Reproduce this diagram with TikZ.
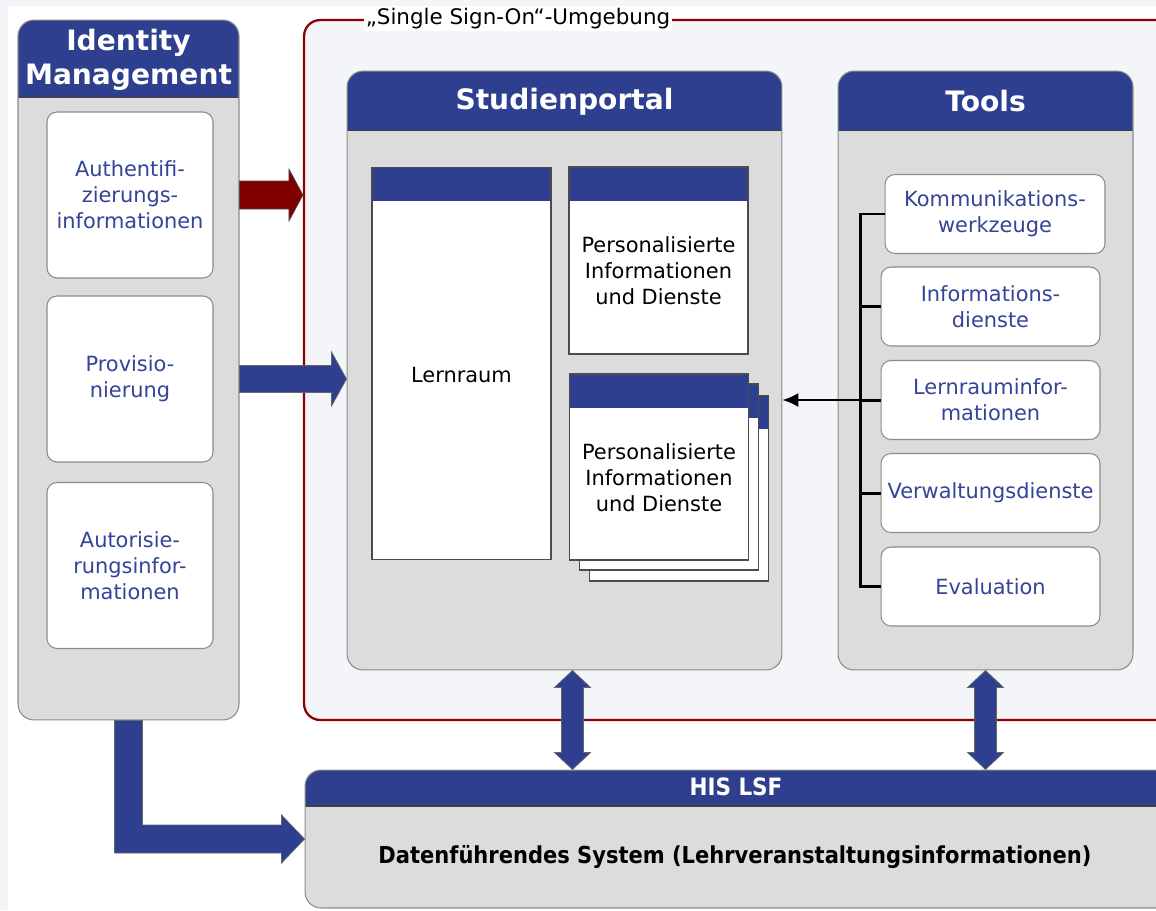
\documentclass[tikz,border=0pt]{standalone}
\usepackage{fontspec}
\setmainfont{DejaVu Sans}
\newfontfamily\hisfont[FakeStretch=0.9]{DejaVu Sans}
\usetikzlibrary{calc,arrows.meta}

\definecolor{hdrblue}{RGB}{46,63,143}
\definecolor{txtblue}{RGB}{52,68,152}
\definecolor{boxgrey}{RGB}{220,220,220}
\definecolor{edgegrey}{RGB}{140,140,140}
\definecolor{ssored}{RGB}{139,0,0}
\definecolor{redfill}{RGB}{128,0,0}
\definecolor{pagebg}{RGB}{244,245,249}

\newcommand{\bodyfont}{\fontsize{11.9}{14.8}\selectfont}
\newcommand{\harrow}[6]{\fill[#6] ($(#1)+(0,-#3)$) -- ($(#2)+(-#5,-#3)$) -- ($(#2)+(-#5,-#4)$) -- (#2) -- ($(#2)+(-#5,#4)$) -- ($(#2)+(-#5,#3)$) -- ($(#1)+(0,#3)$) -- cycle;}
\newcommand{\vdarrow}[2]{\fill[bluearrow] (#1) -- ($(#1)+(18,17)$) -- ($(#1)+(11,17)$) -- ($(#2)+(11,-17)$) -- ($(#2)+(18,-17)$) -- (#2) -- ($(#2)+(-18,-17)$) -- ($(#2)+(-11,-17)$) -- ($(#1)+(-11,17)$) -- ($(#1)+(-18,17)$) -- cycle;}

\tikzset{
  panel/.style={draw=edgegrey, line width=0.6pt, fill=boxgrey, rounded corners=0.32cm, inner sep=0pt,
    path picture={\fill[hdrblue, sharp corners] (path picture bounding box.north west) rectangle ([yshift=-#1]path picture bounding box.north east);
      \draw[black!75, sharp corners] ([yshift=-#1]path picture bounding box.north west) -- ([yshift=-#1]path picture bounding box.north east);}},
  title/.style={text=white, align=center, font=\fontsize{16}{19.3}\selectfont\bfseries},
  idbox/.style={draw=edgegrey, line width=0.6pt, fill=white, rounded corners=0.2cm, minimum width=3.32cm,
    minimum height=3.32cm, text=txtblue, align=center, font=\bodyfont},
  toolbox/.style={draw=edgegrey, line width=0.6pt, fill=white, rounded corners=0.2cm, minimum width=4.38cm,
    minimum height=1.58cm, text=txtblue, align=center, font=\bodyfont},
  docbox/.style={draw=black!70, line width=0.6pt, fill=white, minimum width=3.58cm, inner sep=0pt,
    path picture={\fill[hdrblue] (path picture bounding box.north west) rectangle ([yshift=-0.67cm]path picture bounding box.north east);}},
  doctext/.style={align=center, font=\bodyfont},
  bluearrow/.style={fill=hdrblue, draw=black!60, line width=0.4pt},
  redarrow/.style={fill=redfill, draw=black!70, line width=0.4pt},
  bracket/.style={line width=1.7pt}
}

\begin{document}
\begin{tikzpicture}[x=0.02cm, y=-0.02cm]
  \useasboundingbox (0,0) rectangle (1156,910);
  \fill[pagebg] (0,0) rectangle (1156,910);
  \fill[white] (8,6) rectangle (1156,910);

  \node[draw=ssored, line width=1.3pt, fill=pagebg, rounded corners=0.32cm, minimum width=17.6cm, minimum height=14cm] (sso) at (744,370) {};

  \node[panel=1.54cm, minimum width=4.42cm, minimum height=14cm] (idm) at (128.5,370) {};
  \node[title] (idmt) at (128.5,60) {Identity\\Management};
  \node[idbox] (auth) at (130,195) {Authentifi-\\zierungs-\\informationen};
  \node[idbox] (prov) at (130,379) {Provisio-\\nierung};
  \node[idbox] (autor) at (130,565.5) {Autorisie-\\rungsinfor-\\mationen};

  \node[panel=1.18cm, minimum width=8.7cm, minimum height=11.98cm] (sp) at (564.5,370.5) {};
  \node[title] (spt) at (564.5,102) {Studienportal};
  \node[docbox, minimum height=7.86cm] (lern) at (461.5,363.5) {};
  \node[doctext] (lernt) at (461.5,375) {Lernraum};
  \node[docbox, minimum height=3.74cm] (pers) at (658.5,260.5) {};
  \node[doctext] (perst) at (658.5,271) {Personalisierte\\Informationen\\und Dienste};
  \node[docbox, minimum height=3.72cm] (stackc) at (679,488) {};
  \node[docbox, minimum height=3.72cm] (stackb) at (669,477) {};
  \node[docbox, minimum height=3.72cm] (stack) at (659,467) {};
  \node[doctext] (stackt) at (659,478) {Personalisierte\\Informationen\\und Dienste};

  \node[panel=1.18cm, minimum width=5.9cm, minimum height=11.98cm] (tools) at (985.5,370.5) {};
  \node[title] (toolst) at (985.5,101) {Tools};
  \node[toolbox, minimum width=4.4cm] (kom) at (995,214) {Kommunikations-\\werkzeuge};
  \node[toolbox] (inf) at (990.5,306.5) {Informations-\\dienste};
  \node[toolbox] (lri) at (990.5,400) {Lernrauminfor-\\mationen};
  \node[toolbox] (verw) at (990.5,493) {Verwaltungsdienste};
  \node[toolbox] (eva) at (990.5,586.5) {Evaluation};

  \coordinate (br) at (860,0);
  \draw[bracket] (kom.west) -- (kom.west -| br) -- (eva.west -| br) -- (eva.west);
  \foreach \n in {inf,lri,verw}
    \draw[bracket] (\n.west) -- (\n.west -| br);
  \draw[line width=1.1pt, -{Latex[length=9pt,width=8pt]}] (lri.west -| br) -- (lri.west -| sp.east);

  \node[panel=0.72cm, minimum width=17.6cm, minimum height=2.76cm] (his) at (745,839) {};
  \node[text=white, font=\hisfont\bfseries\fontsize{13.6}{15}\selectfont] (hist) at (736,787) {HIS LSF};
  \node[font=\hisfont\bfseries\fontsize{13.3}{15}\selectfont] (hisd) at (735,857) {Datenführendes System (Lehrveranstaltungsinformationen)};

  \coordinate (ra) at (idm.east |- auth);
  \coordinate (rb) at (sso.west |- auth);
  \harrow{ra}{rb}{14}{26}{14}{redarrow}
  \coordinate (pa) at (idm.east |- prov);
  \coordinate (pb) at (sp.west |- prov);
  \harrow{pa}{pb}{13.5}{27}{15}{bluearrow}

  \coordinate (d1a) at ($(sp.south)+(8,0)$);
  \coordinate (d1b) at (d1a |- his.north);
  \vdarrow{d1a}{d1b}
  \coordinate (d2a) at (tools.south);
  \coordinate (d2b) at (d2a |- his.north);
  \vdarrow{d2a}{d2b}

  \coordinate (la) at (idm.south);
  \coordinate (lc) at (idm.south |- his.west);
  \fill[bluearrow] ($(la)+(-14,0)$) -- ($(la)+(14,0)$) -- ($(lc)+(14,-14)$) -- ($(his.west)+(-23,-14)$) -- ($(his.west)+(-23,-24)$) -- (his.west) -- ($(his.west)+(-23,24)$) -- ($(his.west)+(-23,14)$) -- ($(lc)+(-14,14)$) -- cycle;

  \node[fill=white, inner sep=1pt, font=\fontsize{12.2}{14.8}\selectfont] (ssot) at (518,19) {„Single Sign-On“-Umgebung};
\end{tikzpicture}
\end{document}
